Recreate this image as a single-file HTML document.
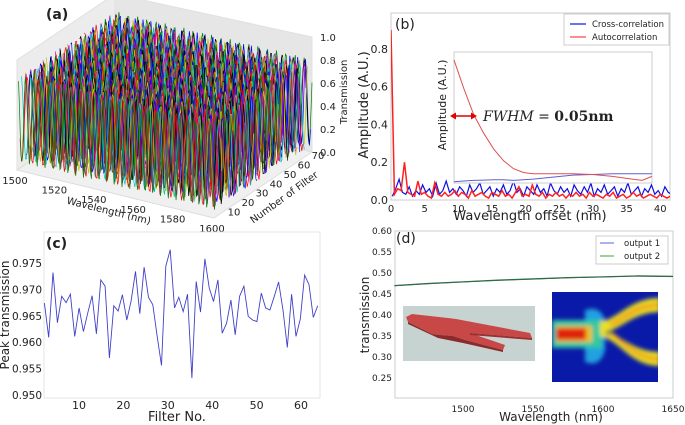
<!DOCTYPE html>
<html><head><meta charset="utf-8"><style>
html,body{margin:0;padding:0;background:#fff;}
svg{display:block;font-family:"DejaVu Sans","Liberation Sans",sans-serif;}
</style></head><body>
<svg id="fig" width="685" height="425" viewBox="0 0 685 425" xmlns="http://www.w3.org/2000/svg">
<defs>
<clipPath id="clipB"><rect x="391" y="13" width="279" height="188"/></clipPath>
<filter id="blur2"><feGaussianBlur stdDeviation="2.2"/></filter>
<clipPath id="clipHeat"><rect x="552" y="292" width="106" height="90"/></clipPath>
</defs>
<g id="panelA"></g>
<g id="panelB"></g>
<g id="panelC"></g>
<g id="panelD"></g>
</svg>
<script>
// ---------- DATA ----------
const aPeriods = [4.2,3.8,5.1,4.6,3.5,4.9,4.0,5.4,3.7,4.4,5.0,3.9,4.7,4.1,5.3,3.6];
const aPhases = [0.3,1.7,2.9,0.8,4.1,5.2,2.2,3.6,1.1,4.8,0.5,2.6,3.9,5.7,1.4,4.4];
const aFilterCount = 64;
const aZTicks = ["0.0","0.2","0.4","0.6","0.8","1.0"];
const aWlTicks = [1500,1520,1540,1560,1580,1600];
const aFilterTicks = [10,20,30,40,50,60,70];

const bCross = [0.02,0.06,0.11,0.04,0.03,0.07,0.02,0.05,0.03,0.08,0.04,0.06,0.02,0.09,0.03,0.05,0.10,0.04,0.06,0.03,0.07,0.05,0.02,0.08,0.04,0.06,0.09,0.03,0.05,0.07,0.02,0.06,0.04,0.08,0.03,0.05,0.10,0.04,0.06,0.02,0.07,0.05,0.03,0.08,0.04,0.06,0.02,0.09,0.05,0.03,0.07,0.04,0.06,0.02,0.08,0.05,0.03,0.07,0.04,0.09,0.02,0.06,0.04,0.08,0.03,0.05,0.07,0.02,0.06,0.04,0.09,0.03,0.05,0.07,0.02,0.06,0.04,0.08,0.03,0.05,0.02,0.07,0.04,0.03];
const bAuto = [0.90,0.03,0.06,0.05,0.20,0.04,0.03,0.02,0.10,0.03,0.04,0.02,0.01,0.09,0.03,0.02,0.04,0.02,0.03,0.05,0.02,0.04,0.03,0.01,0.05,0.02,0.03,0.04,0.02,0.01,0.04,0.03,0.02,0.05,0.02,0.03,0.01,0.04,0.07,0.02,0.03,0.02,0.08,0.03,0.02,0.04,0.01,0.03,0.02,0.04,0.02,0.03,0.01,0.03,0.02,0.04,0.02,0.03,0.01,0.04,0.02,0.03,0.02,0.01,0.03,0.02,0.04,0.01,0.02,0.03,0.01,0.02,0.04,0.02,0.03,0.01,0.02,0.03,0.02,0.01,0.03,0.02,0.01,0.02];
const bStep = 0.5;
const bYTicks = [0.0,0.2,0.4,0.6,0.8];
const bXTicks = [0,5,10,15,20,25,30,35,40];
const insetX = [0,0.05,0.1,0.15,0.2,0.25,0.3,0.35,0.4,0.5,0.6,0.7,0.8,0.9,0.95,1];
const insetRed = [0.94,0.72,0.52,0.38,0.26,0.17,0.11,0.08,0.07,0.07,0.07,0.065,0.05,0.03,0.02,0.05];
const insetBlue = [0.01,0.015,0.02,0.022,0.025,0.025,0.02,0.025,0.03,0.045,0.06,0.065,0.07,0.07,0.07,0.07];

const cPeak = [0.9674,0.9609,0.9732,0.9637,0.9687,0.9675,0.9691,0.9611,0.9665,0.9620,0.9655,0.9688,0.9616,0.9718,0.9706,0.9570,0.9669,0.9659,0.9690,0.9642,0.9678,0.9734,0.9654,0.9742,0.9685,0.9671,0.9611,0.9556,0.9744,0.9775,0.9665,0.9685,0.9658,0.9691,0.9532,0.9715,0.9657,0.9758,0.9703,0.9677,0.9718,0.9617,0.9636,0.9680,0.9614,0.9687,0.9706,0.9649,0.9642,0.9639,0.9693,0.9665,0.9661,0.9687,0.9714,0.9661,0.9590,0.9691,0.9611,0.9644,0.9727,0.9709,0.9647,0.9669];
const cYTicks = ["0.950","0.955","0.960","0.965","0.970","0.975"];
const cXTicks = [10,20,30,40,50,60];

const dWl = [1451,1475,1500,1525,1550,1575,1600,1625,1650];
const dOut1 = [0.4695,0.4745,0.4785,0.4825,0.4855,0.4885,0.4905,0.4925,0.4915];
const dOut2 = [0.470,0.475,0.479,0.483,0.486,0.489,0.491,0.493,0.492];
const dYTicks = ["0.25","0.30","0.35","0.40","0.45","0.50","0.55","0.60"];
const dXTicks = [1500,1550,1600,1650];

// ---------- HELPERS ----------
const NS = "http://www.w3.org/2000/svg";
function mk(tag, attrs, parent){const e=document.createElementNS(NS,tag);for(const k in attrs)e.setAttribute(k,attrs[k]);if(parent)parent.appendChild(e);return e;}
function txt(parent,x,y,s,size,anchor,extra){const t=mk('text',Object.assign({x:x,y:y,'font-size':size,'text-anchor':anchor||'middle',fill:'#222'},extra||{}),parent);t.textContent=s;return t;}
function pathFrom(pts){return pts.map((p,i)=>(i?'L':'M')+p[0].toFixed(1)+' '+p[1].toFixed(1)).join(' ');}

// ---------- PANEL A ----------
(function(){
const g=document.getElementById('panelA');
const A=[17,170],B=[214,218],C=[312,152],D=[115,104],H=100;
function P(w,f,z){const u=(w-1500)/100,v=f/70;return [A[0]+u*(B[0]-A[0])+v*(D[0]-A[0]),A[1]+u*(B[1]-A[1])+v*(D[1]-A[1])-z*H];}
const lp=mk('polygon',{points:[A,D,[D[0],D[1]-H-10],[A[0],A[1]-H-10]].map(p=>p.join(',')).join(' '),fill:'#ececec',stroke:'#e0e0e0'},g);

const bp=mk('polygon',{points:[D,C,[C[0],C[1]-H-15],[D[0],D[1]-H-10]].map(p=>p.join(',')).join(' '),fill:'#e6e6e6',stroke:'#e0e0e0'},g);

const fp=mk('polygon',{points:[A,B,C,D].map(p=>p.join(',')).join(' '),fill:'#f0f0f0',stroke:'#ddd'},g);

const colors=['#0000ff','#008000','#ff0000','#00bfbf','#bf00bf','#bfbf00','#000000'];
for(let n=aFilterCount;n>=1;n--){
  const per=aPeriods[n%aPeriods.length]*(1+0.03*(n%5)),ph=aPhases[n%aPhases.length]+n*0.37;
  const pts=[];
  for(let w=1500;w<=1600;w+=0.5){const z=0.5+0.43*Math.sin(2*Math.PI*(w-1500)/per+ph);pts.push(P(w,n*70/aFilterCount,z));}
  const p=mk('path',{d:pathFrom(pts),fill:'none',stroke:colors[n%7],'stroke-width':0.7},g);
  
  
}
aZTicks.forEach((s,i)=>{const t=txt(g,320,C[1]-i*23+4,s,10,'start');});
aWlTicks.forEach(w=>{const p=P(w,0,0);const t=txt(g,p[0]-2,p[1]+14,String(w),10,'middle');});
aFilterTicks.forEach(f=>{const p=P(1600,f,0);const t=txt(g,p[0]+6,p[1]+7,String(f),10,'middle');});
let t=txt(g,0,0,'Wavelength (nm)',10,'middle',{transform:'translate(108,214) rotate(14)'});
t=txt(g,0,0,'Number of Filter',10,'middle',{transform:'translate(286,200) rotate(-36)'});
t=txt(g,0,0,'Transmission',10,'middle',{transform:'translate(347,92) rotate(-90)'});
t=txt(g,46,19,'(a)',14,'start',{'font-weight':'bold'});
})();

// ---------- PANEL B ----------
(function(){
const g=document.getElementById('panelB');
const L=391,R=670,T=13,Bt=200;
const x=v=>L+v*6.73, y=v=>Bt-v*189;
const fr=mk('rect',{x:L,y:T,width:R-L,height:Bt-T,fill:'#fff',stroke:'#ccc'},g);

bXTicks.forEach(v=>{const t=txt(g,x(v),Bt+12,String(v),10,'middle');});
bYTicks.forEach(v=>{const t=txt(g,L-3,y(v)+4,v.toFixed(1),11,'end');});
const cg=mk('g',{'clip-path':'url(#clipB)'},g);
let p=mk('path',{d:pathFrom(bCross.map((v,i)=>[x(i*bStep+0.2),y(v)])),fill:'none',stroke:'#1010e0','stroke-width':1.2},cg);

p=mk('path',{d:pathFrom(bAuto.map((v,i)=>[x(i*bStep),y(v)])),fill:'none',stroke:'#ff2020','stroke-width':1.5},cg);

const iL=454,iR=652,iT=52,iB=183;
const ix=f=>iL+f*(iR-iL), iy=f=>iB-f*(iB-iT);
const ir=mk('rect',{x:iL,y:iT,width:iR-iL,height:iB-iT,fill:'#fff',stroke:'#ccc'},g);

p=mk('path',{d:pathFrom(insetBlue.map((v,i)=>[ix(insetX[i]),iy(v)])),fill:'none',stroke:'#6060d0','stroke-width':1},g);

p=mk('path',{d:pathFrom(insetRed.map((v,i)=>[ix(insetX[i]),iy(v)])),fill:'none',stroke:'#e05050','stroke-width':1},g);

let t=txt(g,0,0,'Amplitude (A.U.)',11,'middle',{transform:'translate(446,105) rotate(-90)'});
const ar=mk('g',{},g);
mk('line',{x1:453,y1:116,x2:474,y2:116,stroke:'#e00000','stroke-width':1.6},ar);
mk('polygon',{points:'450,116 456,112.5 456,119.5',fill:'#e00000'},ar);
mk('polygon',{points:'477,116 471,112.5 471,119.5',fill:'#e00000'},ar);
t=txt(g,483,121,'',14,'start',{'font-family':'"DejaVu Serif","Liberation Serif",serif'});
t.innerHTML='<tspan font-style="italic">FWHM</tspan> = <tspan font-weight="bold">0.05nm</tspan>';

const lg=mk('g',{},g);
mk('rect',{x:564,y:14,width:105,height:31,fill:'#fff',stroke:'#ccc'},lg);
mk('line',{x1:570,y1:24,x2:586,y2:24,stroke:'#1010e0','stroke-width':1.2},lg);
mk('line',{x1:570,y1:37,x2:586,y2:37,stroke:'#ff4040','stroke-width':1.2},lg);
t=txt(lg,592,27,'Cross-correlation',8.5,'start');
t=txt(lg,592,40,'Autocorrelation',8.5,'start');
t=txt(g,0,0,'Amplitude (A.U.)',13,'middle',{transform:'translate(368,105) rotate(-90)'});
t=txt(g,530,220,'Wavelength offset (nm)',13,'middle');
t=txt(g,395,29,'(b)',14,'start');
})();

// ---------- PANEL C ----------
(function(){
const g=document.getElementById('panelC');
const L=44,R=320,T=232,Bt=395;
const x=f=>79+(f-10)*4.44, y=v=>Bt-(v-0.950)/0.005*26.4;
const fr=mk('rect',{x:L,y:T,width:R-L,height:Bt-T+3,fill:'#fff',stroke:'#e4e4e4'},g);

cYTicks.forEach(s=>{const t=txt(g,L-2,y(parseFloat(s))+4,s,10.5,'end');});
cXTicks.forEach(v=>{const t=txt(g,x(v),Bt+14,String(v),11,'middle');});
const p=mk('path',{d:pathFrom(cPeak.map((v,i)=>[x(2.2+i*0.977),y(v)])),fill:'none',stroke:'#4040c8','stroke-width':0.9},g);

let t=txt(g,0,0,'Peak transmission',12,'middle',{transform:'translate(9,315) rotate(-90)'});
t=txt(g,177,421,'Filter No.',13,'middle');
t=txt(g,46,248,'(c)',14,'start',{'font-weight':'bold'});
})();

// ---------- PANEL D ----------
(function(){
const g=document.getElementById('panelD');
const L=395,R=673,T=231,Bt=398;
const x=w=>463+(w-1500)*1.4, y=v=>231+(0.60-v)/0.05*21;
const fr=mk('rect',{x:L,y:T,width:R-L,height:Bt-T,fill:'#fff',stroke:'#ccc'},g);

dYTicks.forEach(s=>{const t=txt(g,L-3,y(parseFloat(s))+3,s,9,'end');});
dXTicks.forEach(v=>{const t=txt(g,x(v),Bt+14,String(v),9,'middle');});
let p=mk('path',{d:pathFrom(dOut1.map((v,i)=>[x(dWl[i]),y(v)])),fill:'none',stroke:'#5050d0','stroke-width':1},g);

p=mk('path',{d:pathFrom(dOut2.map((v,i)=>[x(dWl[i]),y(v)])),fill:'none',stroke:'#2e6e3a','stroke-width':1.2},g);

const dv=mk('g',{},g);
mk('rect',{x:403,y:306,width:132,height:55,fill:'#c6d3d0'},dv);
mk('polygon',{points:'406,317 412,314 448,318 456,319 530,333 532,338 470,333 505,345 503,350 465,340 453,336 440,335 432,334 408,322',fill:'#c84848'},dv);
mk('polygon',{points:'408,322 432,334 440,335 453,336 465,340 503,350 503,352 463,343 438,338 408,324',fill:'#8a2a2a'},dv);
mk('polygon',{points:'470,333 532,338 532,340 470,335',fill:'#9a3030'},dv);
const hm=mk('g',{'clip-path':'url(#clipHeat)'},g);
mk('rect',{x:552,y:292,width:106,height:90,fill:'#0a1aa8'},hm);
const hb=mk('g',{filter:'url(#blur2)'},hm);
mk('path',{d:'M585,310 Q600,305 605,320 L605,350 Q600,368 585,362 Z',fill:'#20a0e0'},hb);
mk('rect',{x:552,y:320,width:50,height:28,fill:'#30c8a0'},hb);
mk('path',{d:'M600,322 C620,318 630,298 660,298 L660,312 C632,312 622,330 600,334 Z',fill:'#e8e020'},hb);
mk('path',{d:'M600,336 C620,340 630,366 660,366 L660,352 C632,352 622,334 600,332 Z',fill:'#e8e020'},hb);
mk('path',{d:'M610,323 C625,315 635,303 660,303 L660,307 C636,307 625,322 610,327 Z',fill:'#f0a020'},hb);
mk('path',{d:'M610,335 C625,345 636,361 660,361 L660,357 C637,357 625,340 610,331 Z',fill:'#f0a020'},hb);
mk('rect',{x:556,y:326,width:36,height:16,fill:'#f0c020'},hb);
mk('rect',{x:556,y:328,width:30,height:12,fill:'#e02010'},hb);
const lg=mk('g',{},g);
mk('rect',{x:596,y:236,width:72,height:28,fill:'#fff',stroke:'#ccc'},lg);
mk('line',{x1:600,y1:243,x2:614,y2:243,stroke:'#6060e0','stroke-width':1},lg);
mk('line',{x1:600,y1:256,x2:614,y2:256,stroke:'#40a040','stroke-width':1},lg);
let t=txt(lg,624,246,'output 1',8.5,'start');
t=txt(lg,624,259,'output 2',8.5,'start');
t=txt(g,0,0,'transmission',12,'middle',{transform:'translate(369,315) rotate(-90)'});
t=txt(g,551,421,'Wavelength (nm)',12,'middle');
t=txt(g,396,243,'(d)',14,'start');
})();
</script>
</body></html>
